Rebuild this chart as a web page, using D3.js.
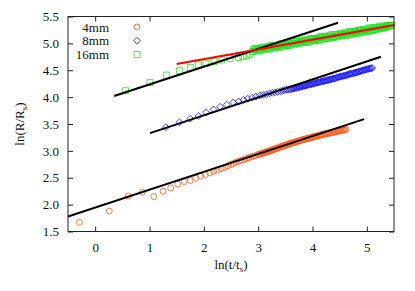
<!DOCTYPE html>
<html>
<head>
<meta charset="utf-8">
<script src="https://cdn.jsdelivr.net/npm/d3@7"></script>
<style>
  body { margin: 0; background: #fff; }
  svg text { font-family: "Liberation Serif", "DejaVu Serif", serif; }
</style>
</head>
<body>
<div id="chart"></div>
<script>
// ln(t/ts) and ln(R/Rs)
let lnT4 = [-0.29, 0.26, 0.61, 0.87, 1.08, 1.25, 1.39, 1.52, 1.64, 1.75, 1.85, 1.94, 2.03, 2.11, 2.18, 2.25, 2.32, 2.38, 2.44, 2.50,
    2.55, 2.60, 2.65, 2.70, 2.75, 2.79, 2.83, 2.87, 2.91, 2.95,
    3.00, 3.02, 3.04, 3.06, 3.08, 3.10, 3.12, 3.14, 3.16, 3.18, 3.20, 3.22, 3.24, 3.26, 3.28, 3.30, 3.32, 3.34, 3.36, 3.38,
    3.40, 3.42, 3.44, 3.46, 3.48, 3.50, 3.52, 3.54, 3.56, 3.58, 3.60, 3.62, 3.64, 3.66, 3.68, 3.70, 3.72, 3.74, 3.76, 3.78,
    3.80, 3.82, 3.84, 3.86, 3.88, 3.90, 3.92, 3.94, 3.96, 3.98, 4.00, 4.02, 4.04, 4.06, 4.08, 4.10, 4.12, 4.14, 4.16, 4.18,
    4.20, 4.22, 4.24, 4.26, 4.28, 4.30, 4.32, 4.34, 4.36, 4.38, 4.40, 4.42, 4.44, 4.46, 4.48, 4.50, 4.52, 4.54, 4.56, 4.58,
    4.60, 4.62];
let lnR4 = [1.67, 1.88, 2.16, 2.23, 2.15, 2.25, 2.31, 2.38, 2.43, 2.45, 2.49, 2.53, 2.56, 2.59, 2.62, 2.64, 2.67, 2.69, 2.72, 2.75,
    2.77, 2.79, 2.81, 2.83, 2.84, 2.86, 2.87, 2.89, 2.90, 2.91,
    2.93, 2.94, 2.94, 2.95, 2.96, 2.96, 2.97, 2.98, 2.98, 2.99, 3.00, 3.00, 3.01, 3.02, 3.02, 3.03, 3.04, 3.05, 3.05, 3.06,
    3.07, 3.08, 3.08, 3.09, 3.10, 3.10, 3.11, 3.12, 3.13, 3.13, 3.14, 3.15, 3.15, 3.16, 3.16, 3.17, 3.18, 3.18, 3.19, 3.19,
    3.20, 3.21, 3.21, 3.22, 3.22, 3.23, 3.23, 3.24, 3.24, 3.25, 3.26, 3.26, 3.27, 3.27, 3.28, 3.28, 3.29, 3.29, 3.30, 3.30,
    3.31, 3.31, 3.32, 3.32, 3.33, 3.33, 3.33, 3.34, 3.34, 3.35, 3.35, 3.36, 3.36, 3.37, 3.37, 3.37, 3.38, 3.38, 3.39, 3.39,
    3.40, 3.40];

let lnT8 = [1.30, 1.55, 1.75, 1.90, 2.04, 2.18, 2.30, 2.42, 2.54, 2.64, 2.73, 2.81, 2.89, 2.96, 3.03, 3.09, 3.15, 3.21, 3.26, 3.31,
    3.36, 3.41, 3.45, 3.49, 3.53, 3.57,
    3.60, 3.62, 3.64, 3.66, 3.68, 3.70, 3.72, 3.74, 3.76, 3.78, 3.80, 3.82, 3.84, 3.86, 3.88, 3.90, 3.92, 3.94, 3.96, 3.98,
    4.00, 4.02, 4.04, 4.06, 4.08, 4.10, 4.12, 4.14, 4.16, 4.18, 4.20, 4.22, 4.24, 4.26, 4.28, 4.30, 4.32, 4.34, 4.36, 4.38,
    4.40, 4.42, 4.44, 4.46, 4.48, 4.50, 4.52, 4.54, 4.56, 4.58, 4.60, 4.62, 4.64, 4.66, 4.68, 4.70, 4.72, 4.74, 4.76, 4.78,
    4.80, 4.82, 4.84, 4.86, 4.88, 4.90, 4.92, 4.94, 4.96, 4.98, 5.00, 5.02, 5.04, 5.06, 5.08, 5.10];
let lnR8 = [3.44, 3.53, 3.60, 3.65, 3.72, 3.77, 3.82, 3.86, 3.90, 3.92, 3.95, 3.97, 3.99, 4.01, 4.03, 4.04, 4.05, 4.07, 4.08, 4.09,
    4.10, 4.11, 4.12, 4.13, 4.14, 4.14,
    4.15, 4.15, 4.16, 4.16, 4.17, 4.17, 4.18, 4.18, 4.19, 4.19, 4.20, 4.20, 4.21, 4.21, 4.22, 4.22, 4.23, 4.23, 4.24, 4.24,
    4.25, 4.25, 4.26, 4.26, 4.27, 4.27, 4.28, 4.28, 4.29, 4.29, 4.30, 4.30, 4.31, 4.31, 4.32, 4.32, 4.33, 4.33, 4.34, 4.34,
    4.35, 4.35, 4.36, 4.37, 4.37, 4.38, 4.38, 4.39, 4.39, 4.40, 4.40, 4.41, 4.41, 4.42, 4.43, 4.43, 4.44, 4.44, 4.45, 4.45,
    4.46, 4.46, 4.47, 4.48, 4.48, 4.49, 4.49, 4.50, 4.51, 4.51, 4.52, 4.52, 4.53, 4.53, 4.54, 4.54];

let lnT16 = [0.56, 1.01, 1.31, 1.55, 1.75, 1.90, 2.04, 2.19, 2.33, 2.48, 2.64, 2.72, 2.79, 2.85,
    2.90, 2.92, 2.94, 2.96, 2.98, 3.00, 3.02, 3.04, 3.06, 3.08, 3.10, 3.12, 3.14, 3.16, 3.18, 3.20, 3.22, 3.24, 3.26, 3.28,
    3.30, 3.32, 3.34, 3.36, 3.38, 3.40, 3.42, 3.44, 3.46, 3.48, 3.50, 3.52, 3.54, 3.56, 3.58, 3.60, 3.62, 3.64, 3.66, 3.68,
    3.70, 3.72, 3.74, 3.76, 3.78, 3.80, 3.82, 3.84, 3.86, 3.88, 3.90, 3.92, 3.94, 3.96, 3.98, 4.00, 4.02, 4.04, 4.06, 4.08,
    4.10, 4.12, 4.14, 4.16, 4.18, 4.20, 4.22, 4.24, 4.26, 4.28, 4.30, 4.32, 4.34, 4.36, 4.38, 4.40, 4.42, 4.44, 4.46, 4.48,
    4.50, 4.52, 4.54, 4.56, 4.58, 4.60, 4.62, 4.64, 4.66, 4.68, 4.70, 4.72, 4.74, 4.76, 4.78, 4.80, 4.82, 4.84, 4.86, 4.88,
    4.90, 4.92, 4.94, 4.96, 4.98, 5.00, 5.02, 5.04, 5.06, 5.08, 5.10, 5.12, 5.14, 5.16, 5.18, 5.20, 5.22, 5.24, 5.26, 5.28,
    5.30, 5.32, 5.34, 5.36, 5.38, 5.40, 5.42, 5.44, 5.46];
let lnR16 = [4.12, 4.27, 4.41, 4.49, 4.55, 4.60, 4.63, 4.66, 4.69, 4.72, 4.74, 4.76, 4.77, 4.80,
    4.85, 4.89, 4.88, 4.91, 4.87, 4.90, 4.86, 4.91, 4.88, 4.93, 4.90, 4.89, 4.93, 4.91, 4.93, 4.89, 4.95, 4.91, 4.96, 4.94,
    4.92, 4.96, 4.94, 4.96, 4.92, 4.98, 4.94, 5.00, 4.97, 4.95, 5.00, 4.97, 4.99, 4.96, 5.01, 4.97, 5.03, 5.00, 4.99, 5.03,
    5.00, 5.03, 4.99, 5.04, 5.01, 5.06, 5.03, 5.02, 5.06, 5.03, 5.06, 5.02, 5.08, 5.04, 5.09, 5.07, 5.05, 5.09, 5.07, 5.09,
    5.05, 5.11, 5.07, 5.13, 5.10, 5.08, 5.13, 5.10, 5.12, 5.09, 5.14, 5.10, 5.16, 5.13, 5.11, 5.16, 5.13, 5.16, 5.12, 5.17,
    5.14, 5.19, 5.16, 5.15, 5.19, 5.16, 5.19, 5.15, 5.21, 5.17, 5.22, 5.20, 5.18, 5.22, 5.20, 5.22, 5.18, 5.24, 5.20, 5.25,
    5.23, 5.21, 5.26, 5.23, 5.25, 5.22, 5.27, 5.23, 5.29, 5.26, 5.24, 5.29, 5.26, 5.29, 5.25, 5.30, 5.27, 5.32, 5.29, 5.28,
    5.32, 5.29, 5.32, 5.30, 5.33, 5.32, 5.33, 5.33, 5.34];

// straight fits: [x0, y0, x1, y1]
let fit4 = [-0.5, 1.78, 4.95, 3.59];
let fit8 = [1.01, 3.33, 5.26, 4.75];
let fit16 = [0.35, 4.02, 4.47, 5.385];
let fitRed = [1.50, 4.616, 5.51, 5.34];

let xTicks = [0, 1, 2, 3, 4, 5];
let yTicks = [1.5, 2.0, 2.5, 3.0, 3.5, 4.0, 4.5, 5.0, 5.5];
let seriesNames = ["4mm", "8mm", "16mm"];

let W = 415, H = 291;
let m = {left: 68, right: 21, top: 16.5, bottom: 59.5};
let w = W - m.left - m.right, h = H - m.top - m.bottom;

let svg = d3.select("#chart").append("svg")
    .attr("width", W).attr("height", H);
let g = svg.append("g").attr("transform", "translate(" + m.left + "," + m.top + ")");

let x = d3.scaleLinear().domain([-0.5, 5.5]).range([0, w]);
let y = d3.scaleLinear().domain([1.5, 5.5]).range([h, 0]);

let colors = ["#ff5a1e", "#1010ff", "#22dd22"];

function marker(sel, i) {
    if (i == 0) sel.attr("d", d3.symbol().type(d3.symbolCircle).size(28));
    if (i == 1) sel.attr("d", "M0,-3.4L3.4,0L0,3.4L-3.4,0Z");
    if (i == 2) sel.attr("d", "M-3,-3H3V3H-3Z");
}

function drawSeries(xs, ys, i) {
    let pts = xs.map(function(v, k) { return [v, ys[k]]; });
    let sel = g.append("g").selectAll("path").data(pts).enter().append("path")
        .attr("transform", function(d) { return "translate(" + x(d[0]) + "," + y(d[1]) + ")"; })
        .attr("fill", "none")
        .attr("stroke", colors[i])
        .attr("stroke-width", 0.8);
    marker(sel, i);
}
drawSeries(lnT4, lnR4, 0);
drawSeries(lnT8, lnR8, 1);
drawSeries(lnT16, lnR16, 2);

[fit4, fit8, fit16, fitRed].forEach(function(f, i) {
    g.append("line")
        .attr("x1", x(f[0])).attr("y1", y(f[1]))
        .attr("x2", x(f[2])).attr("y2", y(f[3]))
        .attr("stroke", i == 3 ? "#ff0000" : "#000")
        .attr("stroke-width", 2);
});

// axes, ticks inward on all four sides
let ax = [
    g.append("g").attr("transform", "translate(0," + h + ")").call(d3.axisBottom(x).tickValues(xTicks).tickSize(-5).tickPadding(11).tickFormat(d3.format("d"))),
    g.append("g").call(d3.axisTop(x).tickValues(xTicks).tickSize(-5).tickFormat("")),
    g.append("g").call(d3.axisLeft(y).tickValues(yTicks).tickSize(-5).tickPadding(9).tickFormat(d3.format(".1f"))),
    g.append("g").attr("transform", "translate(" + w + ",0)").call(d3.axisRight(y).tickValues(yTicks).tickSize(-5).tickFormat(""))
];
ax.forEach(function(a) {
    a.select(".domain").remove();
    a.selectAll("line").attr("stroke", "#222");
    a.selectAll("text").attr("font-size", "13px").attr("fill", "#111");
});
g.append("rect").attr("width", w).attr("height", h)
    .attr("fill", "none").attr("stroke", "#222").attr("stroke-width", 1);

// legend
seriesNames.forEach(function(n, i) {
    let ly = 10.5 + i * 13.8;
    g.append("text").attr("x", 41).attr("y", ly).attr("dy", "0.35em")
        .attr("text-anchor", "end").attr("font-size", "13px").attr("fill", "#111").text(n);
    let p = g.append("path").attr("transform", "translate(69," + ly + ")")
        .attr("fill", "none").attr("stroke", colors[i]).attr("stroke-width", 0.8);
    marker(p, i);
});

// axis labels
let xl = svg.append("text").attr("x", m.left + w / 2).attr("y", 269)
    .attr("text-anchor", "middle").attr("font-size", "13px").attr("fill", "#111");
xl.append("tspan").text("ln(t/t");
xl.append("tspan").attr("font-size", "9px").attr("dy", 3).text("s");
xl.append("tspan").attr("dy", -3).text(")");

let yl = svg.append("text").attr("transform", "translate(24," + (m.top + h / 2) + ") rotate(-90)")
    .attr("text-anchor", "middle").attr("font-size", "13px").attr("fill", "#111");
yl.append("tspan").text("ln(R/R");
yl.append("tspan").attr("font-size", "9px").attr("dy", 3).text("s");
yl.append("tspan").attr("dy", -3).text(")");
</script>
</body>
</html>
